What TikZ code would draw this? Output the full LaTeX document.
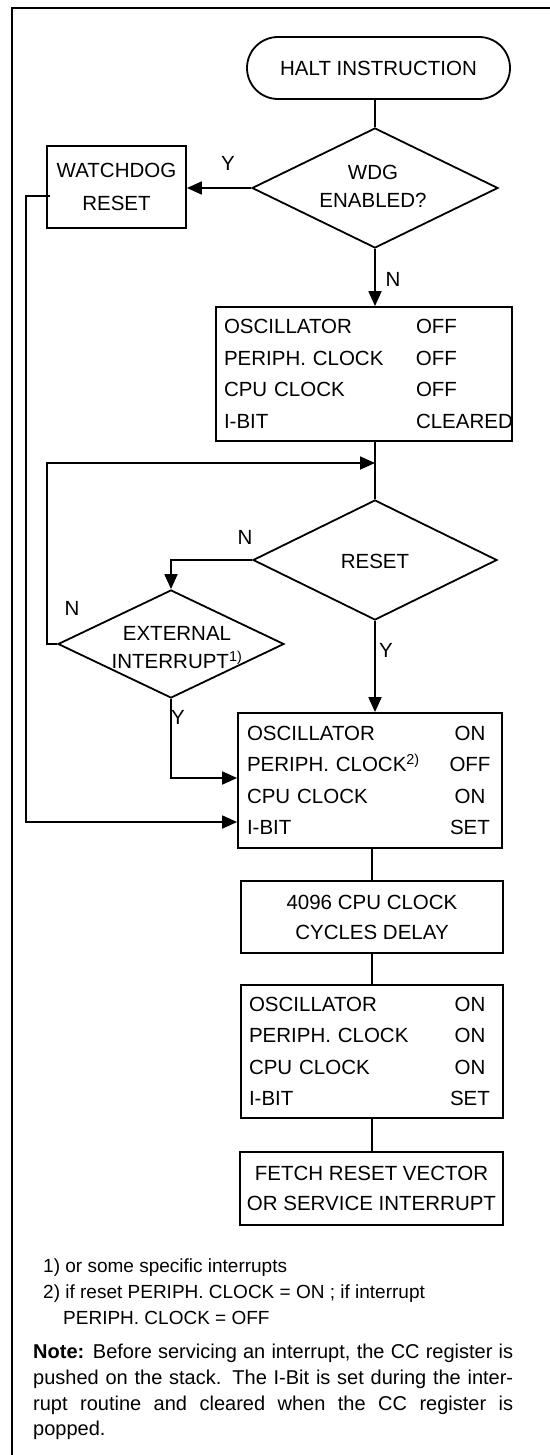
\documentclass[tikz,border=0pt]{standalone}
\usepackage{fontspec}
\setmainfont{Liberation Sans}
\usetikzlibrary{arrows.meta,shapes.geometric,shapes.misc}
\newcommand{\vrow}[3]{\makebox[#1][l]{#2}\makebox[44pt]{#3}}
\begin{document}
\begin{tikzpicture}[x=1pt,y=-1pt,
  font=\fontsize{20.5}{28}\selectfont,
  every node/.style={inner sep=0pt},
  ln/.style={line width=1.8pt},
  arr/.style={line width=1.8pt,-{Triangle[length=15pt,width=13pt]}},
  boxn/.style={draw,line width=1.8pt,rectangle},
  dia/.style={draw,line width=1.8pt,diamond},
  rowsfont/.style={font=\fontsize{20.5}{31.5}\selectfont},
  smallfont/.style={font=\fontsize{19}{26}\selectfont}
]
\useasboundingbox (0,0) rectangle (549,1455);
\draw[line width=2pt] (12,1456) -- (12,8) -- (550,8);

% nodes
\node[draw,line width=1.8pt,rounded rectangle,minimum width=263pt,minimum height=62pt] (halt) at (378.5,68) {HALT INSTRUCTION};
\node[dia,minimum width=246pt,minimum height=120pt] (wdg) at (375,188) {};
\node[align=center] (wdgt) at (373,186) {WDG\\ENABLED?};
\node[boxn,minimum width=139pt,minimum height=82pt,align=center,font=\fontsize{20.5}{33}\selectfont] (wd) at (116.5,187) {WATCHDOG\\RESET};
\node (ly1) at (228,163) {Y};
\node (ln1) at (393,279) {N};

\node[boxn,rowsfont,minimum width=296pt,minimum height=134pt,text width=280pt,align=left] (box1) at (364,374)
  {\makebox[192pt][l]{OSCILLATOR}OFF\\
   \makebox[192pt][l]{PERIPH. CLOCK}OFF\\
   \makebox[192pt][l]{CPU CLOCK}OFF\\
   \makebox[192pt][l]{I-BIT}CLEARED};

\node[dia,minimum width=244pt,minimum height=120pt] (reset) at (375,560) {};
\node (resett) at (375,561) {RESET};
\node (ln2) at (245,537) {N};
\node (ly2) at (386,650) {Y};

\node[dia,minimum width=226pt,minimum height=108pt] (ext) at (171,644) {};
\node[align=center] (extt) at (177,648) {EXTERNAL\\INTERRUPT\textsuperscript{1)}};
\node (ln3) at (72,608) {N};
\node (ly3) at (178,717) {Y};

\node[boxn,rowsfont,minimum width=264pt,minimum height=135pt,text width=246pt,align=left] (box2) at (370,780.5)
  {\vrow{201pt}{OSCILLATOR}{ON}\\
   \vrow{201pt}{PERIPH. CLOCK\textsuperscript{2)}}{OFF}\\
   \vrow{201pt}{CPU CLOCK}{ON}\\
   \vrow{201pt}{I-BIT}{SET}};

\node[boxn,minimum width=262pt,minimum height=72pt,align=center,font=\fontsize{20.5}{30}\selectfont] (box3) at (372,917)
  {4096 CPU CLOCK\\CYCLES DELAY};

\node[boxn,rowsfont,minimum width=262pt,minimum height=133pt,text width=246pt,align=left] (box4) at (372,1051.5)
  {\vrow{199pt}{OSCILLATOR}{ON}\\
   \vrow{199pt}{PERIPH. CLOCK}{ON}\\
   \vrow{199pt}{CPU CLOCK}{ON}\\
   \vrow{199pt}{I-BIT}{SET}};

\node[boxn,minimum width=263pt,minimum height=73pt,align=center,font=\fontsize{20.5}{30}\selectfont] (box5) at (371.5,1188.5)
  {FETCH RESET VECTOR\\OR SERVICE INTERRUPT};

\node[smallfont,anchor=north west,align=left] (foot) at (43,1259)
  {1) or some specific interrupts\\
   2) if reset PERIPH. CLOCK = ON ; if interrupt\\
   \hspace*{20pt}PERIPH. CLOCK = OFF};

\node[anchor=north west,align=left,font=\fontsize{20}{25.7}\selectfont] (note) at (33,1344)
  {\makebox[480pt][s]{\textbf{Note:} Before servicing an interrupt, the CC register is}\\
   \makebox[480pt][s]{pushed on the stack. The I-Bit is set during the inter-}\\
   \makebox[480pt][s]{rupt routine and cleared when the CC register is}\\
   popped.};

% connectors
\coordinate (merge) at (375,463);
\draw[ln] (wdg.north |- halt.south) -- (wdg.north);
\draw[arr] (wdg.west) -- (wdg.west -| wd.east);
\draw[arr] (wdg.south) -- (wdg.south |- box1.north);
\draw[ln] (reset.north |- box1.south) -- (reset.north);
\draw[arr] (reset.west) -| (ext.north);
\draw[arr] (reset.south) -- (reset.south |- box2.north);
\draw[arr] (ext.west) -- ++(-10,0) |- (merge);
\draw[arr] (ext.south) |- ([yshift=2.5pt]box2.west);
\draw[arr] ([xshift=4pt,yshift=-9pt]wd.west) -- ++(-24,0) |- ([yshift=-41.5pt]box2.west);
\draw[ln] (box3.north |- box2.south) -- (box3.north);
\draw[ln] (box3.south) -- (box4.north);
\draw[ln] (box4.south) -- (box4.south |- box5.north);
\end{tikzpicture}
\end{document}
